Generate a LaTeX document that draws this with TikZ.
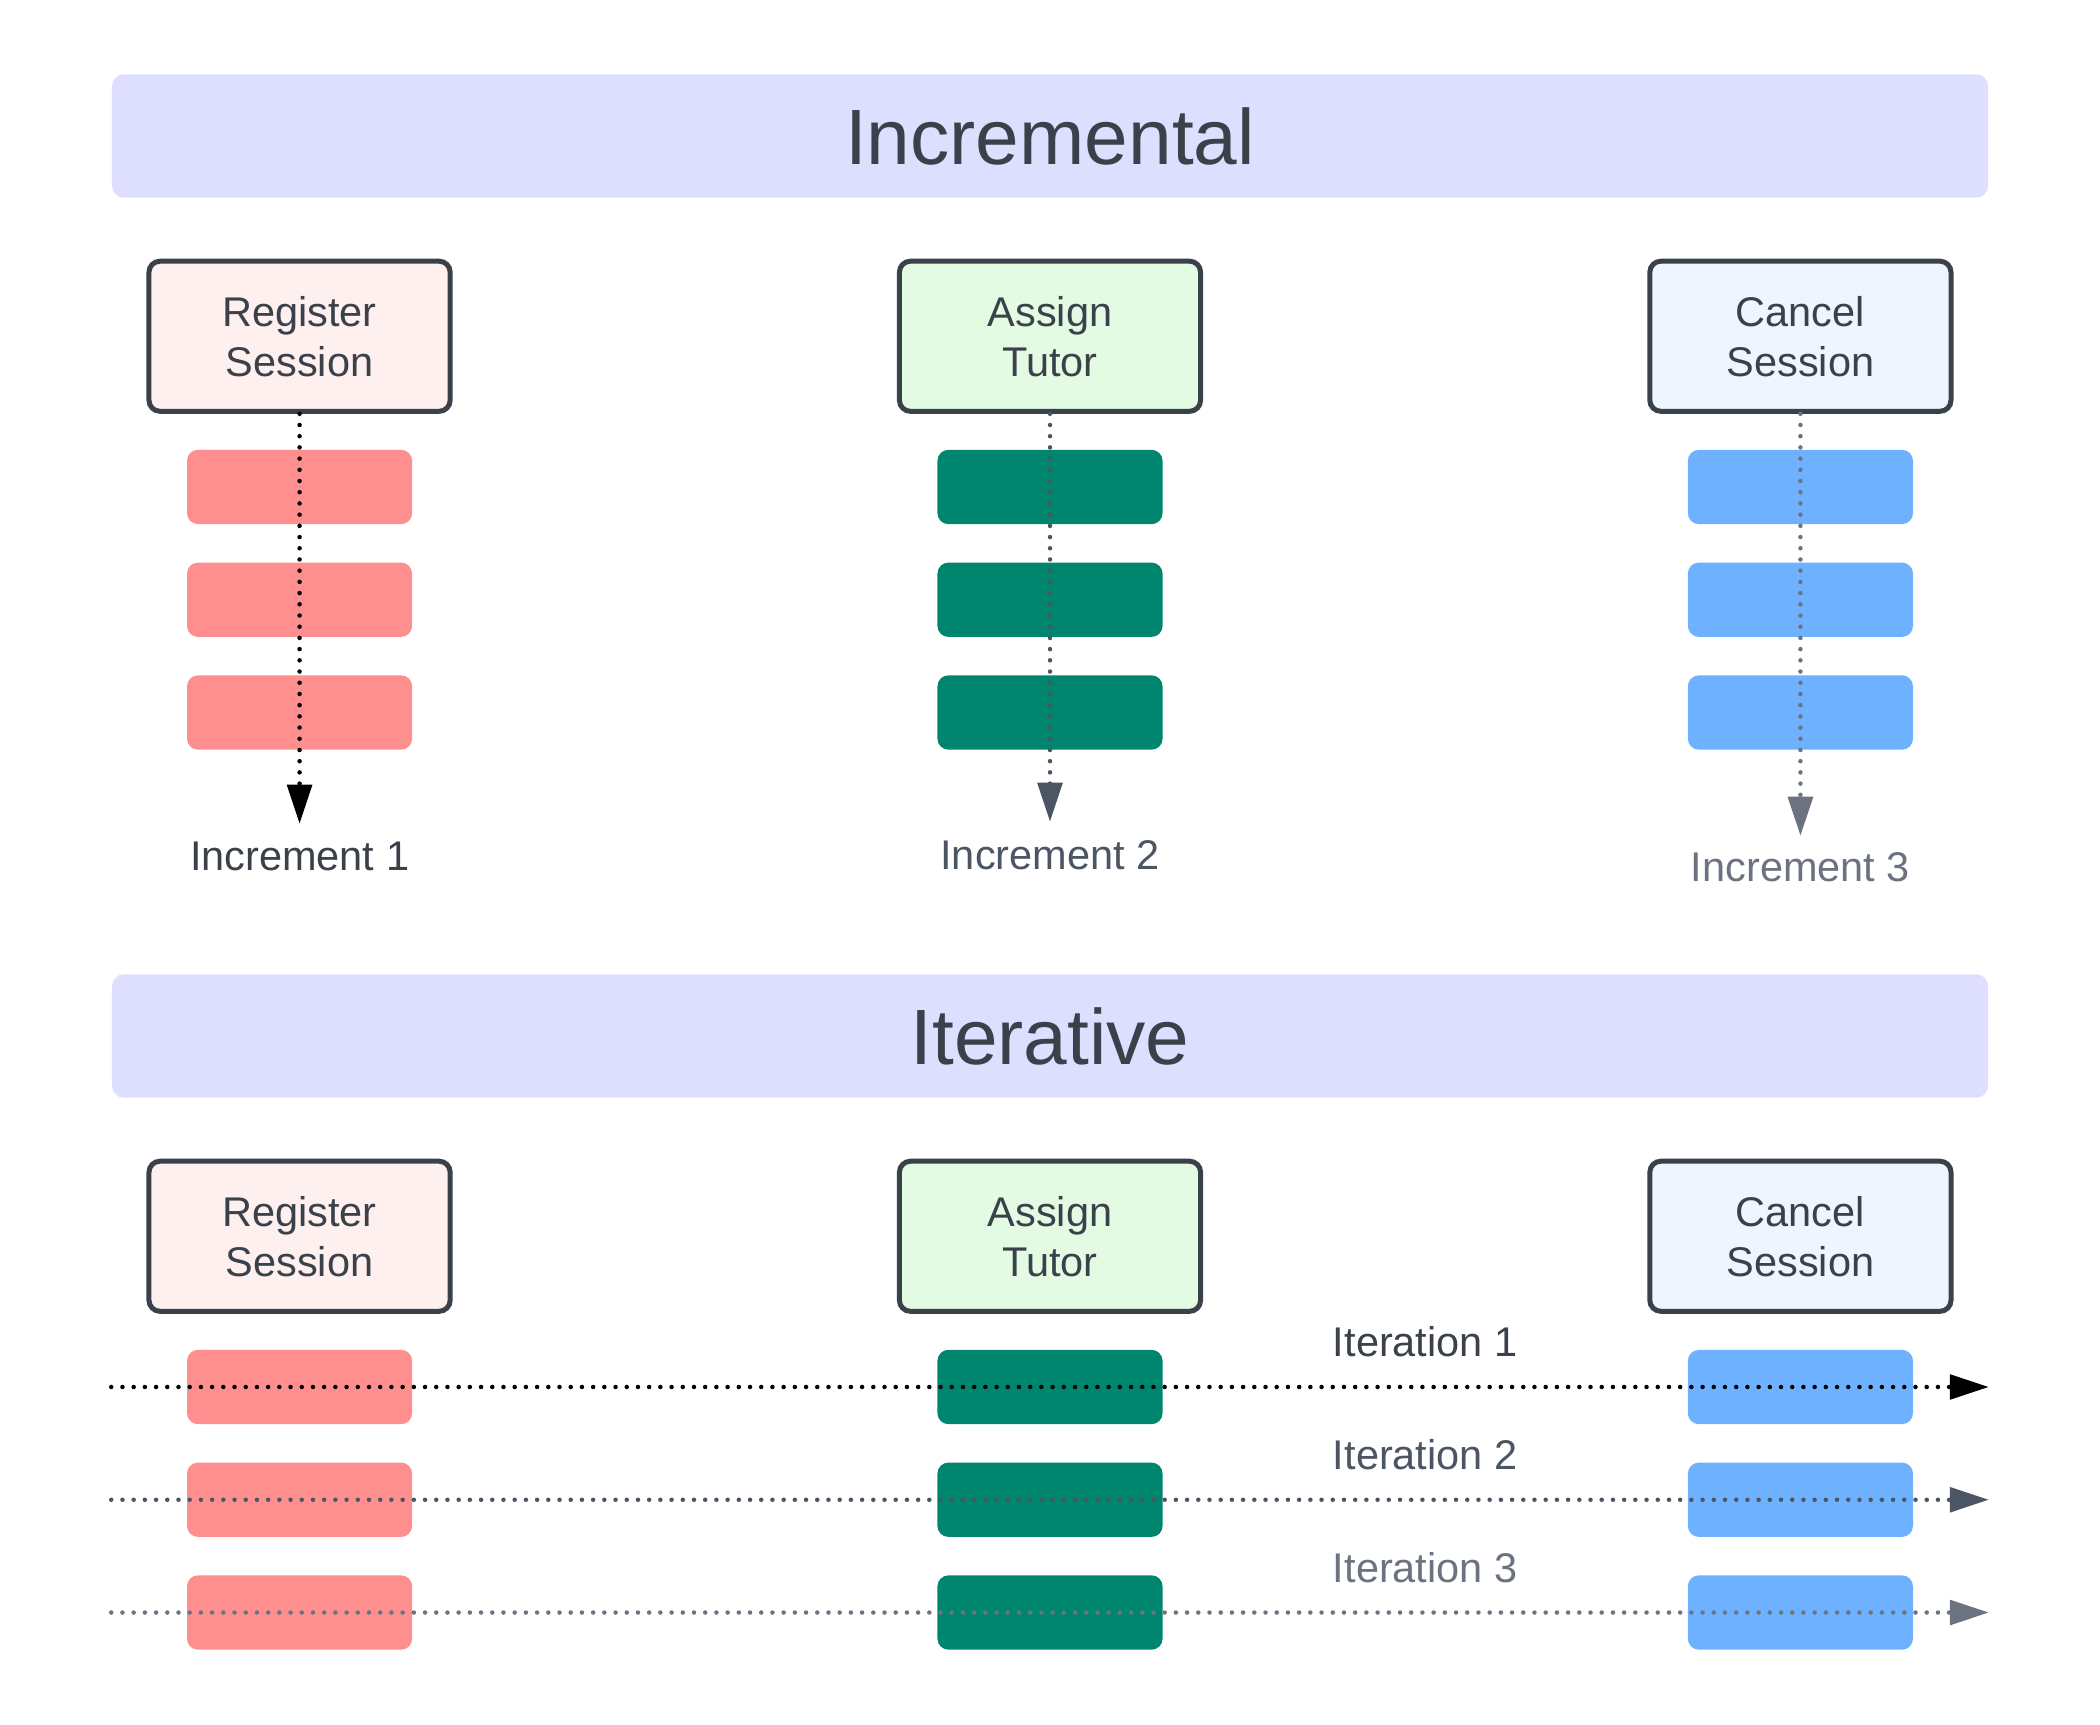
\documentclass[tikz,border=0pt]{standalone}
\usepackage{fontspec}
\setmainfont{Liberation Sans}
\usetikzlibrary{matrix,arrows.meta,positioning,calc}

\definecolor{titlebg}{HTML}{DEDEFF}
\definecolor{ink}{HTML}{3A414A}
\definecolor{ink2}{HTML}{4B5563}
\definecolor{ink3}{HTML}{6B7280}
\definecolor{hdrpink}{HTML}{FFF0F0}
\definecolor{hdrgreen}{HTML}{E3FAE3}
\definecolor{hdrblue}{HTML}{EEF5FF}
\definecolor{barpink}{HTML}{FF8F8F}
\definecolor{barteal}{HTML}{00856F}
\definecolor{barblue}{HTML}{6DB1FF}

\begin{document}
\begin{tikzpicture}[x=0.01cm, y=-0.01cm, font=\fontsize{11.8}{14.2}\selectfont,
  title/.style={fill=titlebg, rounded corners=1.2mm, minimum width=18.75cm, minimum height=1.234cm, text=ink, font=\fontsize{22.3}{26}\selectfont},
  plan/.style={matrix of nodes, nodes in empty cells, inner sep=0pt, column sep=4.44cm, row sep=3.84mm,
    nodes={minimum width=2.25cm, minimum height=7.43mm, rounded corners=1.1mm, inner sep=0pt, outer sep=0pt},
    column 1/.style={nodes={fill=barpink}},
    column 2/.style={nodes={fill=barteal}},
    column 3/.style={nodes={fill=barblue}},
    row 1/.style={nodes={draw=ink, line width=0.5mm, text=ink, minimum width=3.01cm, minimum height=1.50cm, text width=2cm, align=center, outer sep=0.25mm}},
    row 1 column 1/.style={nodes={fill=hdrpink}},
    row 1 column 2/.style={nodes={fill=hdrgreen}},
    row 1 column 3/.style={nodes={fill=hdrblue}},
  },
  flow/.style={line width=0.45mm, line cap=round, dash pattern=on 0pt off 1.12mm, -{Triangle[length=3.9mm,width=2.45mm]}},
]
\useasboundingbox (0,0) rectangle (2100,1725);

% incremental
\node[title] (inctitle) at (1050,136) {Incremental};

\matrix[plan, anchor=north] (inc) at (1050,258) {
 Register Session & Assign Tutor & Cancel Session \\[-0.24mm]
 & & \\
 & & \\
 & & \\ };

\coordinate (inc1end) at ([yshift=-7.4mm]inc-4-1.south);
\coordinate (inc2end) at ([yshift=-7.2mm]inc-4-2.south);
\coordinate (inc3end) at ([yshift=-8.6mm]inc-4-3.south);

\draw[flow, black] (inc-1-1.south) -- (inc1end);
\draw[flow, ink2] (inc-1-2.south) -- (inc2end);
\draw[flow, ink3] (inc-1-3.south) -- (inc3end);

\node[text=ink] (inc1label) at ([yshift=-3.3mm]inc1end) {Increment 1};
\node[text=ink2] (inc2label) at ([yshift=-3.3mm]inc2end) {Increment 2};
\node[text=ink3] (inc3label) at ([yshift=-3.1mm]inc3end) {Increment 3};

% iterative
\node[title] (itertitle) at (1050,1036) {Iterative};

\matrix[plan, anchor=north] (iter) at (1050,1158) {
 Register Session & Assign Tutor & Cancel Session \\[-0.24mm]
 & & \\
 & & \\
 & & \\ };

\draw[flow, black] (itertitle.west |- iter-2-1.center) -- (itertitle.east |- iter-2-3.center);
\draw[flow, ink2] (itertitle.west |- iter-3-1.center) -- (itertitle.east |- iter-3-3.center);
\draw[flow, ink3] (itertitle.west |- iter-4-1.center) -- (itertitle.east |- iter-4-3.center);

\node[text=ink] (iter1label) at ($(iter-2-2.center)!0.5!(iter-2-3.center)+(0,-45)$) {Iteration 1};
\node[text=ink2] (iter2label) at ($(iter-3-2.center)!0.5!(iter-3-3.center)+(0,-45)$) {Iteration 2};
\node[text=ink3] (iter3label) at ($(iter-4-2.center)!0.5!(iter-4-3.center)+(0,-45)$) {Iteration 3};

\end{tikzpicture}
\end{document}
